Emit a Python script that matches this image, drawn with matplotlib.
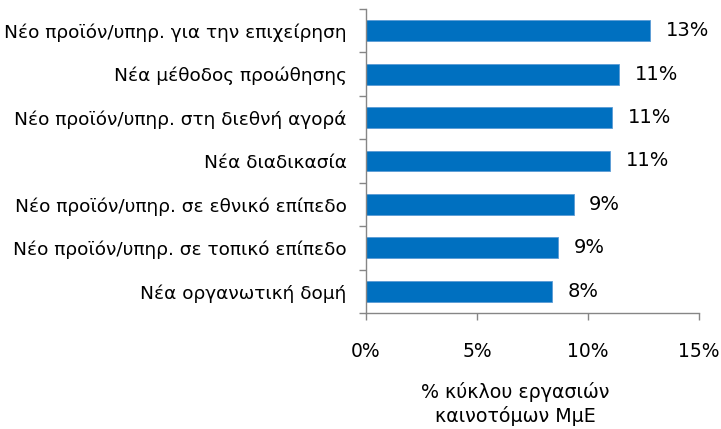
"""Horizontal bar chart: innovation types, % of innovative SME turnover."""
import matplotlib.pyplot as plt
import numpy as np

plt.rcParams["font.family"] = ["DejaVu Sans"]

categories = [
    "Νέο προϊόν/υπηρ. για την επιχείρηση",
    "Νέα μέθοδος προώθησης",
    "Νέο προϊόν/υπηρ. στη διεθνή αγορά",
    "Νέα διαδικασία",
    "Νέο προϊόν/υπηρ. σε εθνικό επίπεδο",
    "Νέο προϊόν/υπηρ. σε τοπικό επίπεδο",
    "Νέα οργανωτική δομή",
]
values = [12.8, 11.4, 11.1, 11.0, 9.35, 8.65, 8.4]
value_labels = ["13%", "11%", "11%", "11%", "9%", "9%", "8%"]
xticks = [0, 5, 10, 15]
xticklabels = ["0%", "5%", "10%", "15%"]

BLUE = "#0070C0"
AXIS = "#868686"

fig = plt.figure(figsize=(7.21, 4.29), dpi=100)
ax = fig.add_axes([366 / 721, 1 - 313 / 429, 333 / 721, 304 / 429])

ypos = np.arange(len(categories))[::-1]
ax.barh(ypos, values, height=0.48, color=BLUE, edgecolor="#5B9BD5", linewidth=0.6)

for y, v, lab in zip(ypos, values, value_labels):
    ax.text(v + 0.7, y, lab, va="center", ha="left", fontsize=14, color="black")

ax.set_xlim(0, 15)
ax.set_ylim(-0.5, len(categories) - 0.5)
ax.set_xticks(xticks)
ax.set_xticklabels(xticklabels, fontsize=13.5)
ax.set_yticks(np.arange(len(categories) + 1) - 0.5, minor=True)
ax.set_yticks(ypos)
ax.set_yticklabels(categories, fontsize=13.3)
ax.tick_params(axis="y", which="major", length=0, pad=14)
ax.tick_params(axis="y", which="minor", length=5, color=AXIS, width=1)
ax.tick_params(axis="x", length=5, color=AXIS, width=1, pad=16)

for side in ["top", "right"]:
    ax.spines[side].set_visible(False)
for side in ["left", "bottom"]:
    ax.spines[side].set_color(AXIS)
    ax.spines[side].set_linewidth(1)

fig.text(515 / 721, 1 - 392 / 429, "% κύκλου εργασιών", ha="center", va="center", fontsize=13.7)
fig.text(515 / 721, 1 - 416 / 429, "καινοτόμων ΜμΕ", ha="center", va="center", fontsize=13.7)

fig.savefig("out.png", dpi=100)
